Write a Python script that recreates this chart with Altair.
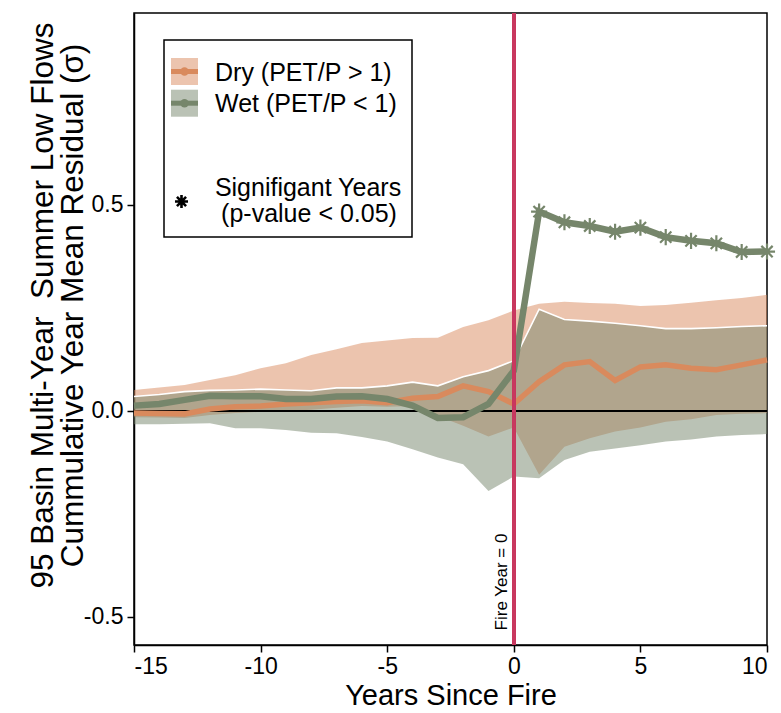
import altair as alt
import pandas as pd

# ---------------- data ----------------
years = list(range(-15, 11))
dry_mean = [-0.005, -0.006, -0.007, 0.005, 0.010, 0.012, 0.017, 0.020, 0.023, 0.025,
            0.020, 0.031, 0.035, 0.061, 0.047, 0.017, 0.071, 0.112, 0.120, 0.074,
            0.107, 0.112, 0.104, 0.100, 0.112, 0.124]
dry_low = [-0.015, -0.016, -0.017, -0.010, -0.005, -0.002, 0.000, 0.003, 0.008, 0.012,
           0.010, 0.012, -0.012, -0.036, -0.062, -0.040, -0.155, -0.087, -0.066, -0.050,
           -0.040, -0.026, -0.020, -0.010, -0.007, -0.005]
dry_high = [0.051, 0.057, 0.063, 0.075, 0.087, 0.104, 0.116, 0.136, 0.150, 0.165,
            0.171, 0.177, 0.178, 0.204, 0.220, 0.244, 0.260, 0.265, 0.262, 0.260,
            0.255, 0.257, 0.263, 0.269, 0.274, 0.282]
wet_mean = [0.013, 0.017, 0.027, 0.037, 0.036, 0.036, 0.029, 0.029, 0.035, 0.036,
            0.029, 0.013, -0.017, -0.015, 0.017, 0.098, 0.484, 0.458, 0.449, 0.435,
            0.445, 0.422, 0.413, 0.407, 0.386, 0.387]
wet_low = [-0.032, -0.032, -0.031, -0.030, -0.042, -0.042, -0.046, -0.053, -0.054, -0.063,
           -0.074, -0.093, -0.113, -0.129, -0.194, -0.159, -0.163, -0.119, -0.099, -0.091,
           -0.083, -0.074, -0.069, -0.062, -0.058, -0.056]
wet_high = [0.035, 0.040, 0.047, 0.050, 0.051, 0.053, 0.051, 0.049, 0.056, 0.056,
            0.061, 0.070, 0.061, 0.083, 0.098, 0.122, 0.247, 0.222, 0.218, 0.213,
            0.207, 0.200, 0.200, 0.202, 0.205, 0.207]
sig_years = [1, 2, 3, 4, 5, 6, 7, 8, 9, 10]

x_ticks = [-15, -10, -5, 0, 5, 10]
y_ticks = [-0.5, 0.0, 0.5]
y_title = ["95 Basin Multi-Year\u00a0\u00a0Summer Low Flows",
           "Cummulative Year Mean Residual (\u03c3)"]
x_title = "Years Since Fire"
legend_labels = ["Dry (PET/P > 1)", "Wet (PET/P < 1)"]
sig_label = ["Signifigant Years", "(p-value < 0.05)"]
fire_label = "Fire Year = 0"

# ---------------- styles ----------------
FONT = "Liberation Sans"
ORANGE = "#D98A5D"
GREEN = "#76866B"
RED = "#C8385F"
W, H = 633, 632
ASTERISK = "M-1,0L1,0M0,-1L0,1M-0.7,-0.7L0.7,0.7M-0.7,0.7L0.7,-0.7"

df = pd.DataFrame({
    "year": years,
    "dry_mean": dry_mean, "dry_low": dry_low, "dry_high": dry_high,
    "wet_mean": wet_mean, "wet_low": wet_low, "wet_high": wet_high,
})
df["sig"] = df["year"].isin(sig_years)

xscale = alt.Scale(domain=[-15, 10], nice=False, zero=False)
yscale = alt.Scale(domain=[-0.568, 0.966], nice=False, zero=False)

xaxis = alt.Axis(
    values=x_ticks, title=x_title, grid=False,
    labelExpr="datum.value < 0 ? '-' + format(-datum.value, 'd') : format(datum.value, 'd')",
    labelFont=FONT, labelFontSize=23, labelColor="black", labelPadding=3,
    tickColor="black", tickSize=7, tickWidth=1.5, domainColor="black", domainWidth=1.5,
    titleFont=FONT, titleFontSize=29, titleFontWeight="normal", titleColor="black",
    titleY=59, titleBaseline="alphabetic",
)
yaxis = alt.Axis(
    values=y_ticks, title=y_title, grid=False,
    labelExpr="datum.value < 0 ? '-' + format(-datum.value, '.1f') : format(datum.value, '.1f')",
    labelFont=FONT, labelFontSize=23, labelColor="black", labelPadding=4,
    tickColor="black", tickSize=7, tickWidth=1.5, domainColor="black", domainWidth=1.5,
    titleFont=FONT, titleFontSize=31.5, titleFontWeight="normal", titleColor="black",
    titleAngle=270, titleAlign="center", titleBaseline="middle", titleLineHeight=30,
    titleX=-91, titleY=292,
)


def X(field):
    return alt.X(field, type="quantitative", scale=xscale, axis=xaxis)


def Y(field):
    return alt.Y(field, type="quantitative", scale=yscale, axis=yaxis)


base = alt.Chart(df)

dry_band = base.mark_area(color=ORANGE, opacity=0.5).encode(
    x=X("year"), y=Y("dry_low"), y2="dry_high")
wet_band = base.mark_area(color=GREEN, opacity=0.5).encode(
    x=X("year"), y=Y("wet_low"), y2="wet_high")
wet_edge = base.mark_line(color="white", strokeWidth=1.6).encode(
    x=X("year"), y=Y("wet_high"))
zero_rule = base.mark_rule(color="black", strokeWidth=1.5).encode(y=alt.datum(0))
dry_line = base.mark_line(color=ORANGE, strokeWidth=5.5).encode(
    x=X("year"), y=Y("dry_mean"))
wet_line = base.mark_line(color=GREEN, strokeWidth=6.5).encode(
    x=X("year"), y=Y("wet_mean"))
stars = base.transform_filter("datum.sig").mark_point(
    shape=ASTERISK, filled=False, color=GREEN, strokeWidth=2.2, size=260, opacity=1
).encode(x=X("year"), y=Y("wet_mean"))
fire_rule = base.mark_rule(color=RED, strokeWidth=3).encode(x=alt.datum(0))
fire_text = alt.Chart(pd.DataFrame({"t": [fire_label]})).mark_text(
    font=FONT, fontSize=17, angle=270, align="center", baseline="middle", color="black"
).encode(x=alt.datum(-0.45), y=alt.datum(-0.415), text="t:N")

# ---------------- legend (drawn in pixel space of the plot) ----------------
one = pd.DataFrame({"a": [0]})
leg_box = alt.Chart(one).mark_rect(fill="white", stroke="black", strokeWidth=1.5).encode(
    x=alt.value(30), x2=alt.value(278), y=alt.value(27), y2=alt.value(224))

leg_items = []
for i, (col, lab) in enumerate(zip([ORANGE, GREEN], legend_labels)):
    yc = 58.5 + i * 31.7
    leg_items.append(alt.Chart(one).mark_rect(fill=col, opacity=0.5).encode(
        x=alt.value(37), x2=alt.value(64), y=alt.value(yc - 13.5), y2=alt.value(yc + 13.5)))
    leg_items.append(alt.Chart(one).mark_rule(color=col, strokeWidth=5).encode(
        x=alt.value(37), x2=alt.value(64), y=alt.value(yc)))
    leg_items.append(alt.Chart(one).mark_point(filled=True, color=col, size=70, opacity=1).encode(
        x=alt.value(50.5), y=alt.value(yc)))
    leg_items.append(alt.Chart(pd.DataFrame({"t": [lab]})).mark_text(
        font=FONT, fontSize=25, align="left", baseline="middle", color="black").encode(
        x=alt.value(81), y=alt.value(yc + 1), text="t:N"))

leg_star = alt.Chart(one).mark_point(
    shape=ASTERISK, filled=False, color="black", strokeWidth=2.6, size=170, opacity=1
).encode(x=alt.value(47.5), y=alt.value(188.5))
leg_sig = [
    alt.Chart(pd.DataFrame({"t": [sig_label[0]]})).mark_text(
        font=FONT, fontSize=25, align="center", baseline="middle", color="black").encode(
        x=alt.value(174), y=alt.value(175), text="t:N"),
    alt.Chart(pd.DataFrame({"t": [sig_label[1]]})).mark_text(
        font=FONT, fontSize=25, align="center", baseline="middle", color="black").encode(
        x=alt.value(175), y=alt.value(200.5), text="t:N"),
]

chart = alt.layer(
    dry_band, wet_band, wet_edge, zero_rule, dry_line, wet_line, stars, fire_rule, fire_text,
    leg_box, *leg_items, leg_star, *leg_sig
).properties(
    width=W, height=H,
    autosize=alt.AutoSizeParams(type="none"),
    padding={"left": 134, "top": 13, "right": 14, "bottom": 68},
    background="white",
).configure_view(
    stroke="black", strokeWidth=1.5
)

chart.save("out.html", embed_options={"renderer": "svg", "actions": False})
